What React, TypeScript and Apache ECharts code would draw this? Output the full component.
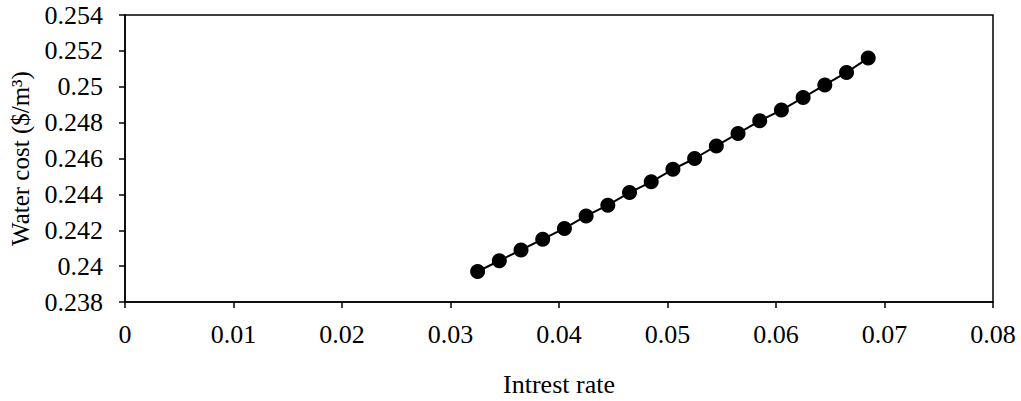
import React, { useEffect, useRef } from "react";
import * as echarts from "echarts";

const interestRate = [
  0.0325, 0.0345, 0.0365, 0.0385, 0.0405, 0.0425, 0.0445, 0.0465, 0.0485, 0.0505,
  0.0525, 0.0545, 0.0565, 0.0585, 0.0605, 0.0625, 0.0645, 0.0665, 0.0685,
];
const waterCost = [
  0.2397, 0.2403, 0.2409, 0.2415, 0.2421, 0.2428, 0.2434, 0.2441, 0.2447, 0.2454,
  0.246, 0.2467, 0.2474, 0.2481, 0.2487, 0.2494, 0.2501, 0.2508, 0.2516,
];
const xTitle = "Intrest rate";
const yTitle = "Water cost ($/m³)";

export default function App() {
  const ref = useRef<HTMLDivElement>(null);
  useEffect(() => {
    document.body.style.margin = "0";
    if (!ref.current) return;
    const chart = echarts.init(ref.current, null, { renderer: "svg" });
    const font = "Liberation Serif";
    const axisLine = { show: true, lineStyle: { color: "#000", width: 1.5 } };
    chart.setOption({
      animation: false,
      backgroundColor: "#fff",
      textStyle: { fontFamily: font },
      grid: {
        left: 125,
        right: 28,
        top: 15,
        bottom: 99,
        containLabel: false,
        outerBoundsMode: "none",
        show: true,
        borderColor: "#000",
        borderWidth: 1.5,
        backgroundColor: "transparent",
      },
      xAxis: {
        type: "value",
        min: 0,
        max: 0.08,
        interval: 0.01,
        name: xTitle,
        nameLocation: "middle",
        nameGap: 69,
        nameTextStyle: { fontFamily: font, fontSize: 26, color: "#000" },
        axisLine,
        axisTick: { show: true, inside: false, length: 6, lineStyle: { color: "#000", width: 1.5 } },
        splitLine: { show: false },
        axisLabel: {
          margin: 19,
          fontFamily: font,
          fontSize: 26,
          color: "#000",
          formatter: (v: number) => String(+v.toFixed(2)),
        },
      },
      yAxis: {
        type: "value",
        min: 0.238,
        max: 0.254,
        interval: 0.002,
        name: yTitle,
        nameLocation: "middle",
        nameGap: 92,
        nameTextStyle: { fontFamily: font, fontSize: 25, color: "#000" },
        axisLine,
        axisTick: { show: true, inside: false, length: 6, lineStyle: { color: "#000", width: 1.5 } },
        splitLine: { show: false },
        axisLabel: {
          margin: 22,
          fontFamily: font,
          fontSize: 26,
          color: "#000",
          formatter: (v: number) => String(+v.toFixed(3)),
        },
      },
      series: [
        {
          type: "line",
          data: interestRate.map((x, i) => [x, waterCost[i]]),
          symbol: "circle",
          symbolSize: 15,
          lineStyle: { color: "#000", width: 2 },
          itemStyle: { color: "#000" },
        },
      ],
    });
    return () => chart.dispose();
  }, []);
  return <div ref={ref} style={{ width: 1021, height: 401 }} />;
}
